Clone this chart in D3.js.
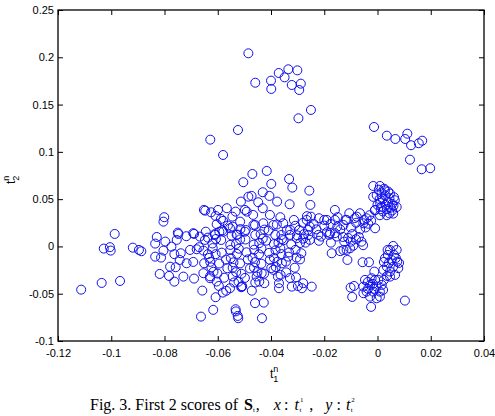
<!DOCTYPE html>
<html>
<head>
<meta charset="utf-8">
<script src="https://cdn.jsdelivr.net/npm/d3@7"></script>
<style>
  body { margin: 0; background: #fff; }
  svg { display: block; }
</style>
</head>
<body>
<div id="chart"><svg></svg></div>
<script>
// Scores, grouped by region
const upperScores = [
    [-0.0485, 0.2042], [-0.0459, 0.1731], [-0.0400, 0.1753], [-0.0399, 0.1665],
    [-0.0371, 0.1834], [-0.0335, 0.1873], [-0.0349, 0.1788], [-0.0301, 0.1862],
    [-0.0322, 0.1707], [-0.0288, 0.1721], [-0.0294, 0.1654], [-0.0250, 0.1443],
    [-0.0297, 0.1355], [-0.0524, 0.1231], [-0.0628, 0.1129], [-0.0580, 0.0967]
];

const rightUpperScores = [
    [-0.0013, 0.1263], [0.0035, 0.1171], [0.0067, 0.1136], [0.0112, 0.1192],
    [0.0104, 0.1136], [0.0126, 0.1070], [0.0155, 0.1091], [0.0168, 0.1118],
    [0.0122, 0.0917], [0.0166, 0.0816], [0.0198, 0.0827]
];

const leftTailScores = [
    [-0.1113, -0.0457], [-0.1036, -0.0386], [-0.0967, -0.0365], [-0.1028, -0.0023],
    [-0.1005, -0.0008], [-0.1002, -0.0044], [-0.0987, 0.0132], [-0.0919, -0.0013],
    [-0.0896, -0.0037], [-0.0887, -0.0051], [-0.0829, 0.0100], [-0.0835, 0.0030],
    [-0.0835, -0.0108], [-0.0818, -0.0291], [-0.0801, 0.0309], [-0.0804, 0.0262],
    [-0.0797, 0.0051], [-0.0804, -0.0044], [-0.0813, -0.0118], [-0.0779, -0.0214],
    [-0.0783, -0.0312], [-0.0763, -0.0372], [-0.0758, -0.0220], [-0.0750, 0.0146],
    [-0.0748, 0.0132], [-0.0774, -0.0002], [-0.0754, 0.0069], [-0.0763, -0.0082],
    [-0.0739, -0.0072], [-0.0729, -0.0319], [-0.0743, -0.0143], [-0.0718, 0.0108],
    [-0.0689, 0.0132], [-0.0717, -0.0178], [-0.0692, -0.0164], [-0.0689, -0.0340],
    [-0.0704, -0.0037], [-0.0679, -0.0030], [-0.0670, -0.0008], [-0.0654, -0.0044],
    [-0.0667, 0.0104], [-0.0692, 0.0140]
];

const lowScores = [
    [-0.0658, -0.0467], [-0.0629, -0.0336], [-0.0608, -0.0537], [-0.0617, -0.0671],
    [-0.0663, -0.0742], [-0.0581, -0.0488], [-0.0533, -0.0664], [-0.0532, -0.0687],
    [-0.0525, -0.0735], [-0.0523, -0.0759], [-0.0460, -0.0600], [-0.0427, -0.0594],
    [-0.0434, -0.0759], [-0.0554, -0.0442], [-0.0510, -0.0425]
];

const upperCentralScores = [
    [-0.0652, 0.0386], [-0.0647, 0.0378], [-0.0625, 0.0361], [-0.0608, 0.0322],
    [-0.0599, 0.0386], [-0.0566, 0.0404], [-0.0580, 0.0270], [-0.0604, 0.0235],
    [-0.0594, 0.0156], [-0.0637, 0.0093], [-0.0648, 0.0069], [-0.0637, -0.0082],
    [-0.0651, -0.0178], [-0.0654, -0.0283], [-0.0645, 0.0156],
    [-0.0504, 0.0679], [-0.0470, 0.0766], [-0.0416, 0.0798], [-0.0513, 0.0474],
    [-0.0473, 0.0534], [-0.0431, 0.0573], [-0.0448, 0.0467], [-0.0491, 0.0368],
    [-0.0533, 0.0368], [-0.0545, 0.0315], [-0.0544, 0.0209],
    [-0.0399, 0.0661], [-0.0332, 0.0713], [-0.0320, 0.0622], [-0.0256, 0.0590],
    [-0.0252, 0.0439], [-0.0330, 0.0446], [-0.0377, 0.0474], [-0.0406, 0.0534],
    [-0.0365, 0.0309], [-0.0314, 0.0280], [-0.0266, 0.0280], [-0.0250, 0.0315],
    [-0.0220, 0.0298], [-0.0200, 0.0280], [-0.0160, 0.0386], [-0.0176, 0.0238],
    [-0.0151, 0.0209], [-0.0128, 0.0227], [-0.0106, 0.0351], [-0.0116, 0.0280],
    [-0.0078, 0.0315], [-0.0066, 0.0351], [-0.0041, 0.0298], [-0.0053, 0.0245],
    [-0.0024, 0.0273], [-0.0009, 0.0192], [-0.0009, 0.0386],
    [-0.0588, 0.0291], [-0.0516, 0.0262], [-0.0498, 0.0386], [-0.0485, 0.0526],
    [-0.0610, 0.0122], [-0.0579, 0.0156], [-0.0554, 0.0192], [-0.0529, 0.0122],
    [-0.0498, 0.0156], [-0.0431, 0.0404], [-0.0467, 0.0333], [-0.0404, 0.0333],
    [-0.0160, 0.0280], [-0.0260, 0.0174], [-0.0222, 0.0122], [-0.0178, 0.0140],
    [-0.0153, 0.0104], [-0.0354, 0.0245], [-0.0391, 0.0227], [-0.0429, 0.0245],
    [-0.0460, 0.0227], [-0.0329, 0.0122]
];

const bandScores = [
    [-0.0254, 0.0209], [-0.0294, 0.0174], [-0.0254, 0.0069], [-0.0212, 0.0104],
    [-0.0181, 0.0122], [-0.0125, 0.0051], [-0.0128, -0.0037], [-0.0103, -0.0019],
    [-0.0081, 0.0076], [-0.0091, 0.0008], [-0.0054, 0.0013], [-0.0172, -0.0072],
    [-0.0113, -0.0143], [-0.0286, -0.0072], [-0.0335, -0.0108], [-0.0344, -0.0161],
    [-0.0056, -0.0167], [-0.0032, -0.0167], [-0.0012, -0.0266], [-0.0101, -0.0435],
    [-0.0088, -0.0418], [-0.0095, -0.0534], [-0.0024, -0.0639], [0.0103, -0.0573],
    [-0.0370, -0.0389], [-0.0370, -0.0442], [-0.0322, -0.0425], [-0.0306, -0.0326],
    [-0.0279, -0.0389], [-0.0284, -0.0442], [-0.0247, -0.0425], [-0.0364, -0.0301],
    [-0.0391, -0.0248], [-0.0425, -0.0389], [-0.0435, -0.0283], [-0.0303, 0.0087],
    [-0.0116, -0.0037],
    [-0.0280, 0.0250], [-0.0240, 0.0240], [-0.0200, 0.0220], [-0.0230, 0.0180],
    [-0.0190, 0.0150], [-0.0140, 0.0180], [-0.0120, 0.0280], [-0.0100, 0.0200],
    [-0.0080, 0.0250], [-0.0065, 0.0180], [-0.0095, 0.0130], [-0.0130, 0.0100],
    [-0.0150, 0.0310], [-0.0110, 0.0090], [-0.0070, 0.0100], [-0.0045, 0.0200],
    [-0.0030, 0.0330], [-0.0085, 0.0300], [-0.0190, 0.0280], [-0.0265, 0.0320],
    [-0.0100, 0.0050], [-0.0060, 0.0050], [-0.0140, -0.0050], [-0.0175, 0.0040],
    [-0.0260, 0.0120], [-0.0220, 0.0060], [-0.0270, 0.0040], [-0.0160, 0.0140],
    [-0.0050, 0.0280], [-0.0035, 0.0240]
];

const centralScores = [
    [-0.0562, 0.0221], [-0.0515, 0.0183], [-0.0466, 0.0226], [-0.0425, 0.0178],
    [-0.0378, 0.0232], [-0.0341, 0.0172], [-0.0309, 0.0218],
    [-0.0611, 0.0131], [-0.0583, 0.0170], [-0.0527, 0.0125], [-0.0495, 0.0174],
    [-0.0439, 0.0129], [-0.0409, 0.0168], [-0.0361, 0.0121], [-0.0328, 0.0176],
    [-0.0276, 0.0131],
    [-0.0607, 0.0079], [-0.0548, 0.0115], [-0.0516, 0.0074], [-0.0459, 0.0121],
    [-0.0431, 0.0083], [-0.0384, 0.0122], [-0.0359, 0.0078], [-0.0302, 0.0117],
    [-0.0279, 0.0082],
    [-0.0620, 0.0031], [-0.0587, 0.0068], [-0.0531, 0.0026], [-0.0496, 0.0073],
    [-0.0444, 0.0035], [-0.0418, 0.0061], [-0.0372, 0.0039], [-0.0353, 0.0066],
    [-0.0291, 0.0036],
    [-0.0619, -0.0018], [-0.0553, 0.0016], [-0.0521, -0.0024], [-0.0465, 0.0019],
    [-0.0436, -0.0021], [-0.0389, 0.0024], [-0.0365, -0.0019], [-0.0324, 0.0021],
    [-0.0585, -0.0066], [-0.0553, -0.0038], [-0.0492, -0.0062], [-0.0463, -0.0035],
    [-0.0407, -0.0068], [-0.0383, -0.0041], [-0.0332, -0.0063], [-0.0308, -0.0036],
    [-0.0632, -0.0121], [-0.0608, -0.0082], [-0.0551, -0.0124], [-0.0528, -0.0079],
    [-0.0469, -0.0121], [-0.0445, -0.0083], [-0.0389, -0.0122], [-0.0361, -0.0081],
    [-0.0304, -0.0118],
    [-0.0628, -0.0163], [-0.0569, -0.0139], [-0.0541, -0.0168], [-0.0487, -0.0137],
    [-0.0460, -0.0166], [-0.0404, -0.0141], [-0.0376, -0.0162], [-0.0291, -0.0137],
    [-0.0624, -0.0222], [-0.0595, -0.0181], [-0.0544, -0.0226], [-0.0516, -0.0179],
    [-0.0464, -0.0224], [-0.0436, -0.0183], [-0.0382, -0.0219], [-0.0359, -0.0179],
    [-0.0311, -0.0225],
    [-0.0616, -0.0268], [-0.0564, -0.0231], [-0.0531, -0.0272], [-0.0479, -0.0233],
    [-0.0451, -0.0271], [-0.0399, -0.0229], [-0.0343, -0.0274],
    [-0.0629, -0.0316], [-0.0601, -0.0287], [-0.0544, -0.0317], [-0.0511, -0.0289],
    [-0.0454, -0.0318], [-0.0426, -0.0288], [-0.0374, -0.0319],
    [-0.0604, -0.0371], [-0.0576, -0.0331], [-0.0522, -0.0373], [-0.0498, -0.0333],
    [-0.0444, -0.0372], [-0.0329, -0.0334],
    [-0.0596, -0.0418], [-0.0539, -0.0381], [-0.0508, -0.0421], [-0.0459, -0.0382],
    [-0.0299, -0.0419],
    [-0.0568, -0.0469], [-0.0512, -0.0431], [-0.0472, -0.0468]
];

const clusterTopScores = [
    [-0.0016, 0.0639], [0.0009, 0.0639], [0.0028, 0.0594], [0.0047, 0.0559],
    [0.0065, 0.0488], [0.0072, 0.0417], [0.0059, 0.0347], [0.0035, 0.0330],
    [0.0009, 0.0330], [-0.0010, 0.0382], [-0.0016, 0.0524], [-0.0003, 0.0541],
    [0.0005, 0.0600], [0.0015, 0.0570], [0.0030, 0.0540], [0.0045, 0.0510],
    [0.0020, 0.0500], [0.0040, 0.0470], [0.0055, 0.0450], [0.0010, 0.0460],
    [0.0030, 0.0440], [0.0050, 0.0410], [0.0015, 0.0420], [0.0035, 0.0395],
    [0.0055, 0.0380], [0.0000, 0.0440], [0.0020, 0.0370], [0.0045, 0.0350],
    [0.0062, 0.0520], [0.0025, 0.0610], [0.0040, 0.0580], [0.0008, 0.0500],
    [0.0060, 0.0430], [0.0012, 0.0395]
];

const clusterMidScores = [
    [0.0038, -0.0037], [0.0059, 0.0005], [0.0072, -0.0037], [0.0028, -0.0125],
    [0.0053, -0.0143], [0.0074, -0.0161], [0.0035, -0.0214], [0.0059, -0.0214],
    [0.0022, -0.0248], [0.0066, -0.0301], [0.0078, -0.0230], [0.0047, -0.0266],
    [0.0047, -0.0037], [0.0039, -0.0090], [0.0062, -0.0090], [0.0043, -0.0174],
    [0.0069, -0.0122], [0.0036, -0.0312], [0.0047, -0.0319], [0.0024, -0.0164],
    [0.0081, -0.0174]
];

const clusterLowScores = [
    [-0.0047, -0.0354], [-0.0022, -0.0336], [0.0003, -0.0354], [0.0016, -0.0407],
    [-0.0053, -0.0425], [-0.0028, -0.0407], [-0.0003, -0.0425], [-0.0041, -0.0478],
    [-0.0016, -0.0478], [0.0009, -0.0478], [-0.0053, -0.0495], [-0.0028, -0.0531],
    [-0.0003, -0.0548], [0.0009, -0.0531], [-0.0009, -0.0354], [-0.0036, -0.0375],
    [-0.0017, -0.0396], [-0.0036, -0.0449], [-0.0013, -0.0449], [0.0024, -0.0354],
    [0.0021, -0.0460]
];

const xTicks = [-0.12, -0.1, -0.08, -0.06, -0.04, -0.02, 0, 0.02, 0.04];
const yTicks = [-0.1, -0.05, 0, 0.05, 0.1, 0.15, 0.2, 0.25];

const allScores = [].concat(upperScores, rightUpperScores, leftTailScores, lowScores,
    upperCentralScores, bandScores, centralScores, clusterTopScores,
    clusterMidScores, clusterLowScores);

// Chart frame
const margin = { top: 10, right: 11, bottom: 75, left: 58 };
const width = 495 - margin.left - margin.right;
const height = 416 - margin.top - margin.bottom;

const root = d3.select("#chart svg")
    .attr("width", 495)
    .attr("height", 416);

const svg = root.append("g")
    .attr("transform", `translate(${margin.left},${margin.top})`);

const x = d3.scaleLinear().domain([-0.12, 0.04]).range([0, width]);
const y = d3.scaleLinear().domain([-0.1, 0.25]).range([height, 0]);

// plain hyphen minus, like the original figure
const fmt = d => String(+d.toFixed(2));

// Axes, ticks pointing inward like MATLAB
const styleAxis = g => {
    g.select(".domain").remove();
    g.selectAll("line").attr("stroke", "#000");
    g.selectAll("text")
        .attr("font-family", "Liberation Sans, Arial, sans-serif")
        .attr("font-size", "11px")
        .attr("fill", "#000");
};

svg.append("g")
    .attr("transform", `translate(0,${height})`)
    .call(d3.axisBottom(x).tickValues(xTicks).tickFormat(fmt).tickSizeInner(-5).tickSizeOuter(0).tickPadding(8))
    .call(styleAxis);

svg.append("g")
    .call(d3.axisTop(x).tickValues(xTicks).tickFormat("").tickSizeInner(-5).tickSizeOuter(0))
    .call(styleAxis);

svg.append("g")
    .call(d3.axisLeft(y).tickValues(yTicks).tickFormat(fmt).tickSizeInner(-5).tickSizeOuter(0).tickPadding(4))
    .call(styleAxis);

svg.append("g")
    .attr("transform", `translate(${width},0)`)
    .call(d3.axisRight(y).tickValues(yTicks).tickFormat("").tickSizeInner(-5).tickSizeOuter(0))
    .call(styleAxis);

svg.append("rect")
    .attr("width", width)
    .attr("height", height)
    .attr("fill", "none")
    .attr("stroke", "#000")
    .attr("stroke-width", 1.3);

// Score markers
svg.append("g")
    .selectAll("circle")
    .data(allScores)
    .enter()
    .append("circle")
    .attr("cx", d => x(d[0]))
    .attr("cy", d => y(d[1]))
    .attr("r", 4.5)
    .attr("fill", "none")
    .attr("stroke", "#1010ee")
    .attr("stroke-width", 1);

// Axis labels
const xLab = root.append("text")
    .attr("x", 270)
    .attr("y", 378)
    .attr("font-family", "Liberation Sans, Arial, sans-serif")
    .attr("font-size", "12px");
xLab.append("tspan").text("t");
xLab.append("tspan").attr("font-size", "9px").attr("dy", -6).text("n");
xLab.append("tspan").attr("font-size", "9px").attr("dx", -5).attr("dy", 10).text("1");

const yLab = root.append("text")
    .attr("transform", "translate(15,184) rotate(-90)")
    .attr("font-family", "Liberation Sans, Arial, sans-serif")
    .attr("font-size", "12px");
yLab.append("tspan").text("t");
yLab.append("tspan").attr("font-size", "9px").attr("dy", -6).text("n");
yLab.append("tspan").attr("font-size", "9px").attr("dx", -5).attr("dy", 10).text("2");

// Caption
const cap = root.append("text")
    .attr("x", 90)
    .attr("y", 410)
    .attr("font-family", "Liberation Serif, Times New Roman, serif")
    .attr("font-size", "16px");
cap.append("tspan").text("Fig. 3. First 2 scores of");
cap.append("tspan").attr("dx", 6).attr("font-weight", "bold").text("S");
cap.append("tspan").attr("font-size", "7px").attr("dy", 2).text("t");
cap.append("tspan").attr("dx", 1).attr("dy", -2).text(",");
cap.append("tspan").attr("dx", 14).attr("font-style", "italic").text("x");
cap.append("tspan").attr("dx", 3).text(":");
cap.append("tspan").attr("dx", 6).attr("font-style", "italic").text("t");
cap.append("tspan").attr("font-size", "7px").attr("dx", 1).attr("dy", -8).text("1");
cap.append("tspan").attr("font-size", "7px").attr("dx", -4).attr("dy", 10).text("t");
cap.append("tspan").attr("dx", 8).attr("dy", -2).text(",");
cap.append("tspan").attr("dx", 12).attr("font-style", "italic").text("y");
cap.append("tspan").attr("dx", 4).text(":");
cap.append("tspan").attr("dx", 5).attr("font-style", "italic").text("t");
cap.append("tspan").attr("font-size", "7px").attr("dx", 1).attr("dy", -8).text("2");
cap.append("tspan").attr("font-size", "7px").attr("dx", -4).attr("dy", 10).text("t");
</script>
</body>
</html>
